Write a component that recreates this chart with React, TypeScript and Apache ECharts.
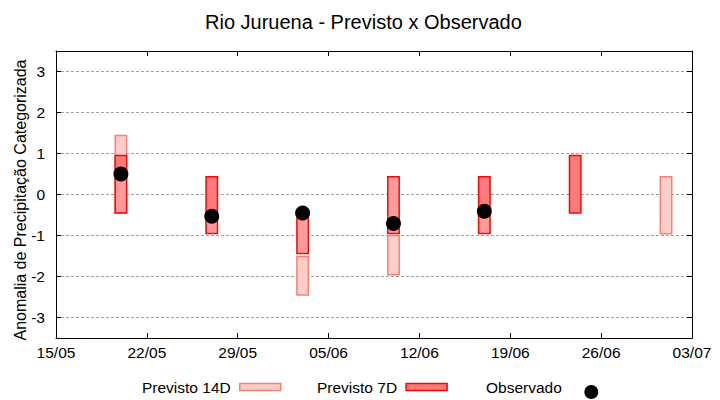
import React, { useEffect, useRef } from "react";
import * as echarts from "echarts";

const FONT = "Liberation Sans, Arial, sans-serif";

const chartTitle = "Rio Juruena - Previsto x Observado";
const yAxisName = "Anomalia de Precipitação Categorizada";
const startDate = "15/05";
const tickLabels = ["15/05", "22/05", "29/05", "05/06", "12/06", "19/06", "26/06", "03/07"];
const weeks = ["20/05", "27/05", "03/06", "10/06", "17/06", "24/06", "01/07"];

const prev14Low: (number | null)[] = [-0.45, null, -2.45, -1.96, null, null, -0.96];
const prev14High: (number | null)[] = [1.44, null, -1.51, -1.0, null, null, 0.43];
const prev7Low: (number | null)[] = [-0.45, -0.95, -1.44, -0.95, -0.95, -0.45, null];
const prev7High: (number | null)[] = [0.95, 0.43, -0.45, 0.43, 0.43, 0.95, null];
const overlapLow: (number | null)[] = [-0.45, -0.95, -1.44, -0.95, -0.95, null, null];
const overlapHigh: (number | null)[] = [0.5, -0.53, -0.45, 0.43, -0.41, null, null];
const observed: (number | null)[] = [0.5, -0.53, -0.45, -0.71, -0.41, null, null];

const C14_FILL = "#fdcdc8";
const C14_STROKE = "#f4827a";
const C7_FILL = "#ff7b7b";
const C7_STROKE = "#f00a0a";
const COVER_FILL = "#ff9a9a";

// legend sample for the observed dot: a 41x24 box with the dot in its lower part
const DOT_ICON =
  "path://M0,0 M41,24 M13.5,17 A7,7 0 1,1 27.5,17 A7,7 0 1,1 13.5,17 Z";

function dayOffset(s: string): number {
  const [d, m] = s.split("/").map(Number);
  const [d0, m0] = startDate.split("/").map(Number);
  return (Date.UTC(2001, m - 1, d) - Date.UTC(2001, m0 - 1, d0)) / 86400000;
}

const xDays = weeks.map(dayOffset);
const xMax = dayOffset(tickLabels[tickLabels.length - 1]);

function boxData(lo: (number | null)[], hi: (number | null)[]) {
  const out: number[][] = [];
  lo.forEach((l, i) => {
    const h = hi[i];
    if (l !== null && h !== null) out.push([xDays[i], l, h]);
  });
  return out;
}

const BOX_W = 0.88;

function boxRenderer(fill: string, stroke: string, inset: boolean) {
  return (params: any, api: any) => {
    const x = api.value(0);
    const lo = api.value(1);
    const hi = api.value(2);
    const p1 = api.coord([x, hi]);
    const p2 = api.coord([x, lo]);
    const w = api.size([BOX_W, 0])[0];
    if (inset) {
      return {
        type: "rect",
        shape: { x: p1[0] - w / 2 + 1, y: p1[1] + 1, width: w - 2, height: p2[1] - p1[1] - 2 },
        style: { fill },
      };
    }
    return {
      type: "rect",
      shape: { x: p1[0] - w / 2, y: p1[1], width: w, height: p2[1] - p1[1] },
      style: { fill, stroke, lineWidth: 1.5 },
    };
  };
}

export default function App() {
  const ref = useRef<HTMLDivElement>(null);
  useEffect(() => {
    if (!ref.current) return;
    const chart = echarts.init(ref.current, undefined, { renderer: "svg" });
    const legendBase = {
      orient: "horizontal",
      align: "right",
      selectedMode: false,
      itemWidth: 41,
      itemHeight: 7,
      top: 379,
      padding: 0,
      textStyle: { fontFamily: FONT, fontSize: 15.5, color: "#000", padding: [0, 4, 0, 0] },
    };
    const axisText = { fontFamily: FONT, fontSize: 15.5, color: "#000" };
    const border = { show: true, onZero: false, lineStyle: { color: "#000", width: 1 } };
    const ticks = { show: true, inside: true, length: 5, lineStyle: { color: "#000" } };
    const option: any = {
      animation: false,
      backgroundColor: "#fff",
      title: {
        text: chartTitle,
        left: 205,
        top: 12,
        padding: 0,
        textStyle: { fontFamily: FONT, fontSize: 20, fontWeight: "normal", color: "#000" },
      },
      grid: { left: 56, right: 28, top: 51, bottom: 62, containLabel: false },
      legend: [
        {
          ...legendBase,
          left: 142,
          data: [{ name: "Previsto 14D", icon: "rect", itemStyle: { color: C14_FILL, borderColor: C14_STROKE, borderWidth: 1.5 } }],
        },
        {
          ...legendBase,
          left: 317,
          data: [{ name: "Previsto 7D", icon: "rect", itemStyle: { color: C7_FILL, borderColor: C7_STROKE, borderWidth: 1.5 } }],
        },
        {
          ...legendBase,
          left: 486,
          itemHeight: 24,
          top: 375,
          data: [{ name: "Observado", icon: DOT_ICON, itemStyle: { color: "#000", opacity: 1 } }],
        },
      ],
      xAxis: [
        {
          type: "value",
          min: 0,
          max: xMax,
          interval: 7,
          axisLine: border,
          axisTick: ticks,
          splitLine: { show: false },
          axisLabel: {
            ...axisText,
            margin: 6,
            formatter: (v: number) => tickLabels[Math.round(v / 7)] ?? "",
          },
        },
        {
          type: "value",
          position: "top",
          min: 0,
          max: xMax,
          interval: 7,
          axisLine: border,
          axisTick: ticks,
          splitLine: { show: false },
          axisLabel: { show: false },
        },
      ],
      yAxis: [
        {
          type: "value",
          min: -3.5,
          max: 3.5,
          splitNumber: 7,
          minInterval: 1,
          maxInterval: 1,
          axisLine: border,
          axisTick: ticks,
          splitLine: { show: true, lineStyle: { color: "#a0a0a0", width: 1, type: [3, 2] } },
          axisLabel: {
            ...axisText,
            margin: 11,
            showMinLabel: false,
            showMaxLabel: false,
            formatter: (v: number) => (Number.isInteger(v) ? String(v) : ""),
          },
        },
        {
          type: "value",
          position: "right",
          min: -3.5,
          max: 3.5,
          splitNumber: 7,
          minInterval: 1,
          maxInterval: 1,
          axisLine: border,
          axisTick: ticks,
          splitLine: { show: false },
          axisLabel: { show: false },
        },
      ],
      graphic: [
        {
          type: "text",
          x: 20,
          y: 200,
          rotation: Math.PI / 2,
          style: {
            text: yAxisName,
            fontFamily: FONT,
            fontSize: 16,
            fill: "#000",
            textAlign: "center",
            textVerticalAlign: "middle",
          },
        },
      ],
      series: [
        {
          name: "Previsto 14D",
          type: "custom",
          z: 2,
          itemStyle: { color: C14_FILL, borderColor: C14_STROKE, borderWidth: 1.5 },
          encode: { x: 0, y: [1, 2] },
          renderItem: boxRenderer(C14_FILL, C14_STROKE, false),
          data: boxData(prev14Low, prev14High),
        },
        {
          name: "Previsto 7D",
          type: "custom",
          z: 3,
          itemStyle: { color: C7_FILL, borderColor: C7_STROKE, borderWidth: 1.5 },
          encode: { x: 0, y: [1, 2] },
          renderItem: boxRenderer(C7_FILL, C7_STROKE, false),
          data: boxData(prev7Low, prev7High),
        },
        {
          name: "Sobreposição",
          type: "custom",
          z: 4,
          encode: { x: 0, y: [1, 2] },
          renderItem: boxRenderer(COVER_FILL, "none", true),
          data: boxData(overlapLow, overlapHigh),
        },
        {
          name: "Observado",
          type: "scatter",
          z: 5,
          symbol: "circle",
          symbolSize: 15,
          itemStyle: { color: "#000", opacity: 1 },
          data: observed
            .map((v, i) => (v === null ? null : [xDays[i], v]))
            .filter((d) => d !== null),
        },
      ],
    };
    chart.setOption(option);
    return () => chart.dispose();
  }, []);
  return (
    <div
      ref={ref}
      style={{ position: "fixed", left: 0, top: 0, width: 720, height: 400, background: "#fff" }}
    />
  );
}
